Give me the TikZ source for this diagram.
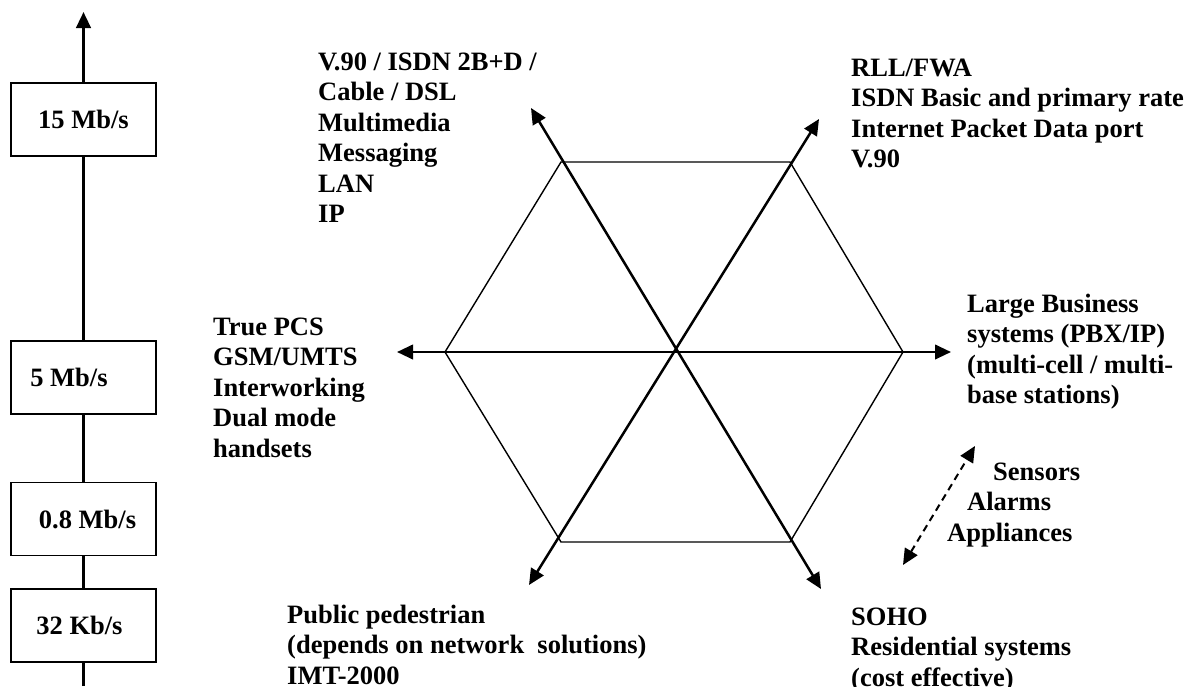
\documentclass[tikz,border=0pt]{standalone}
\usepackage{fontspec}
\setmainfont{Liberation Serif}
\usetikzlibrary{arrows.meta}
\begin{document}
\begin{tikzpicture}[x=1pt,y=-1pt,
  every node/.style={font=\fontsize{26.5}{30.5}\selectfont\bfseries},
  ratebox/.style={draw, line width=1.6pt, minimum width=145pt, minimum height=73pt, inner sep=0pt, fill=white},
  axis/.style={line width=2.8pt},
  head/.tip={Triangle[length=16pt,width=14.5pt]},
  ray/.style={line width=2.5pt, head-head},
  hex/.style={line width=1.4pt, line join=miter},
  blurb/.style={anchor=base west, inner sep=0pt},
]
\useasboundingbox (0,0) rectangle (1189,686);

% data-rate scale on the left
\coordinate (axbot) at (83.5,686);
\coordinate (axtop) at (83.5,12);
\node[ratebox] (r15) at (83.5,119.5) {15 Mb/s};
\node[ratebox] (r5)  at (83.5,377.5) {\hspace*{-29pt}5 Mb/s};
\node[ratebox] (r08) at (83.5,519)   {\hspace*{8pt}0.8 Mb/s};
\node[ratebox] (r32) at (83.5,625.5) {\hspace*{-8pt}32 Kb/s};
\draw[axis] (axbot) -- (r32);
\draw[axis] (r32) -- (r08);
\draw[axis] (r08) -- (r5);
\draw[axis] (r5) -- (r15);
\draw[axis,-head] (r15) -- (axtop);

% hexagon of application areas
\coordinate (hl)  at (445,352);
\coordinate (htl) at (561,162);
\coordinate (htr) at (790,162);
\coordinate (hr)  at (903,352);
\coordinate (hbr) at (790,542);
\coordinate (hbl) at (561,542);
\draw[hex] (hl) -- (htl) -- (htr) -- (hr) -- (hbr) -- (hbl) -- cycle;

% rays through the centre
\coordinate (tL)  at (397,352);
\coordinate (tR)  at (951,352);
\coordinate (tTL) at (531,108);
\coordinate (tBR) at (821,589);
\coordinate (tTR) at (819,119);
\coordinate (tBL) at (529,585);
\draw[ray] (tL) -- (tR);
\draw[ray] (tTL) -- (tBR);
\draw[ray] (tTR) -- (tBL);

% dashed link for the home devices
\coordinate (dTop) at (975,446);
\coordinate (dBot) at (903,565);
\draw[line width=2pt, dash pattern=on 7pt off 5pt, head-head] (dBot) -- (dTop);

% labels
\node[blurb] (data) at (318,70) {\vtop{\hbox{V.90 / ISDN 2B+D /}\hbox{Cable / DSL}\hbox{Multimedia}\hbox{Messaging}\hbox{LAN}\hbox{IP}}};
\node[blurb] (rll) at (851,76) {\vtop{\hbox{RLL/FWA}\hbox{ISDN Basic and primary rate}\hbox{Internet Packet Data port}\hbox{V.90}}};
\node[blurb] (biz) at (967,312) {\vtop{\hbox{Large Business}\hbox{systems (PBX/IP)}\hbox{(multi-cell / multi-}\hbox{base stations)}}};
\node[blurb] (pcs) at (213,335) {\vtop{\hbox{True PCS}\hbox{GSM/UMTS}\hbox{Interworking}\hbox{Dual mode}\hbox{handsets}}};
\node[blurb] (sens) at (993,480) {Sensors};
\node[blurb] (alrm) at (967,510) {Alarms};
\node[blurb] (appl) at (947,541) {Appliances};
\node[blurb] (ped) at (287,623) {\vtop{\hbox{Public pedestrian}\hbox{(depends on network~ solutions)}\hbox{IMT-2000}}};
\node[blurb] (soho) at (851,625) {\vtop{\hbox{SOHO}\hbox{Residential systems}\hbox{(cost effective)}}};
\end{tikzpicture}
\end{document}
